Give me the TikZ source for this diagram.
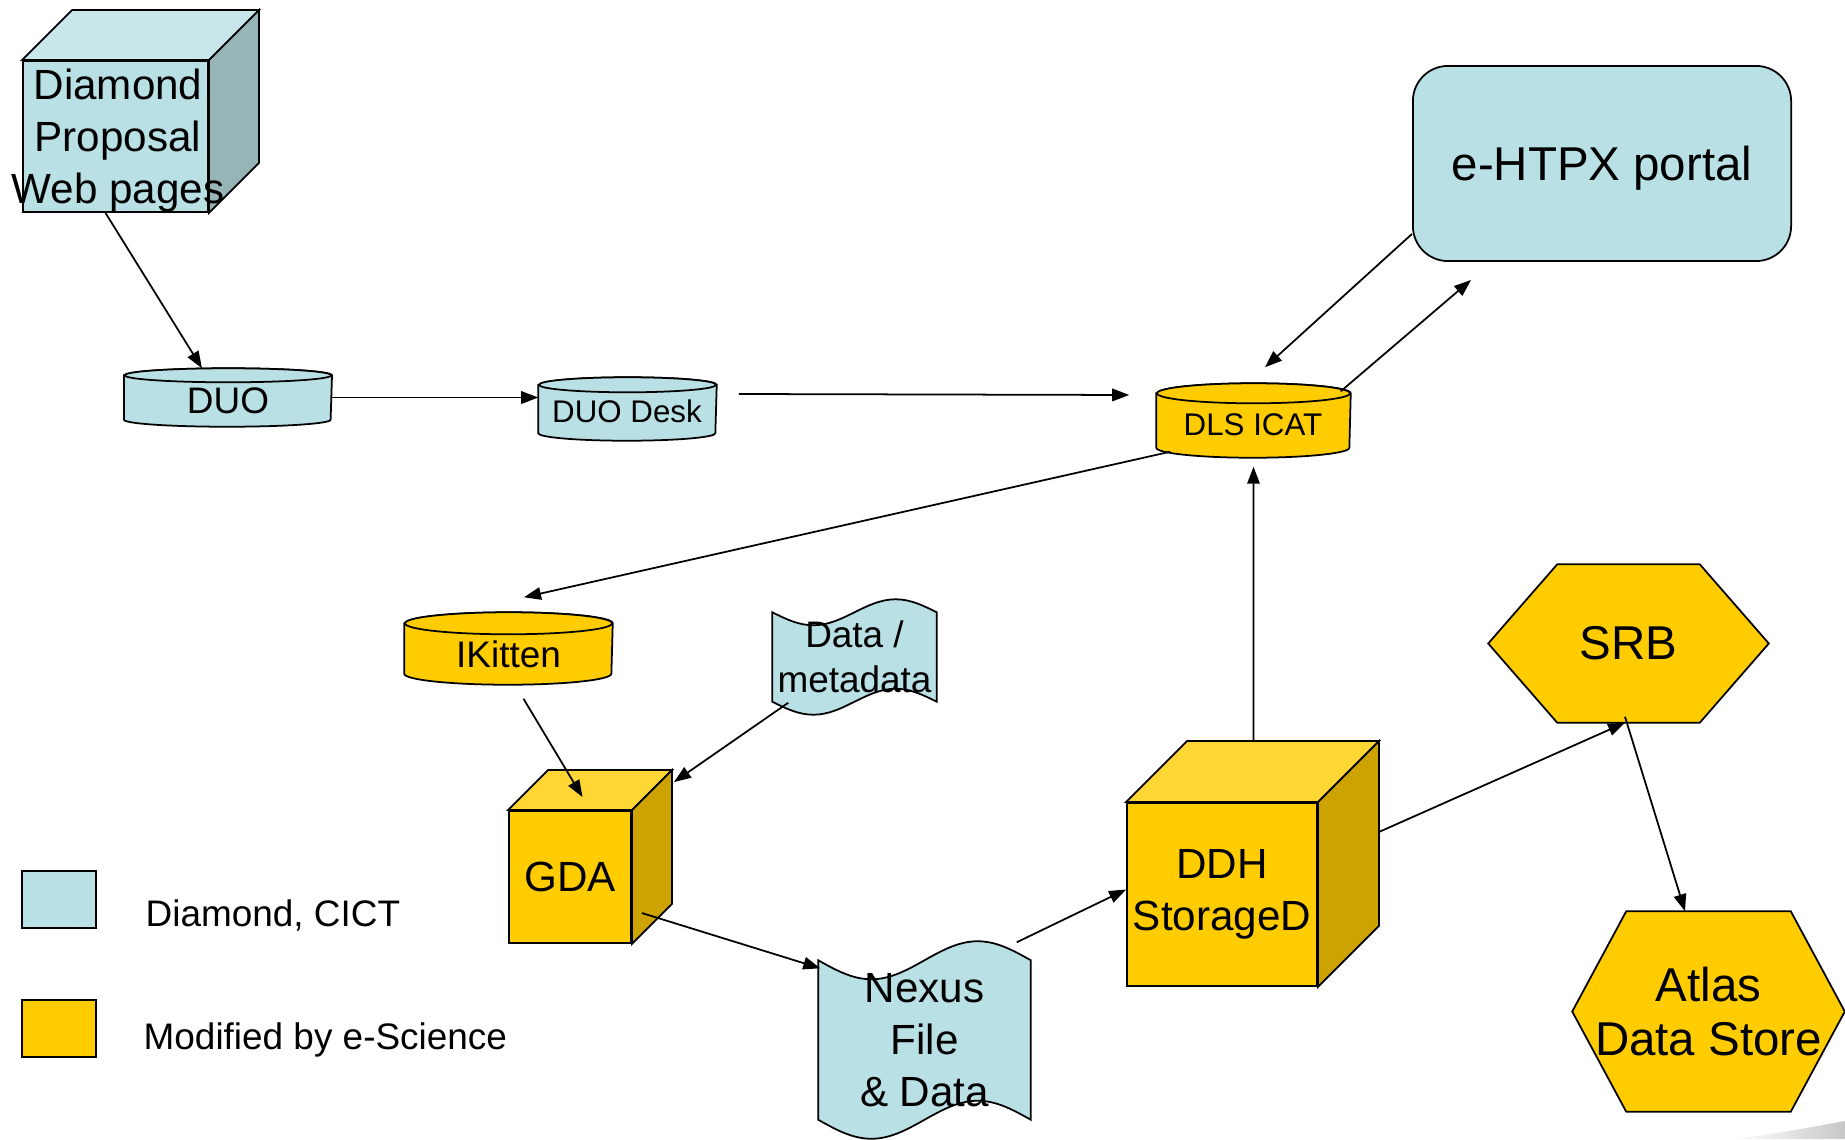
\documentclass[tikz,border=0pt]{standalone}
\usepackage{fontspec}
\setmainfont{Liberation Sans}
\usetikzlibrary{arrows.meta,calc,backgrounds}
\definecolor{cict}{HTML}{B9E0E4}
\definecolor{cicttop}{HTML}{C9E7EA}
\definecolor{cictside}{HTML}{97B4B7}
\definecolor{esci}{HTML}{FFCC00}
\definecolor{escitop}{HTML}{FFD633}
\definecolor{escside}{HTML}{CCA300}
\tikzset{
  face/.style={draw=black, line width=0.5pt},
  cictbox/.style={face, fill=cict, inner sep=0pt, align=center},
  escibox/.style={face, fill=esci, inner sep=0pt, align=center},
  hold/.style={draw=none, inner sep=0pt, align=center},
  lbl/.style={inner sep=0pt, align=center, font=\fontsize{12}{14.8}\selectfont},
  lblbig/.style={inner sep=0pt, align=center, font=\fontsize{13.5}{15.6}\selectfont},
  lblmid/.style={inner sep=0pt, align=center, font=\fontsize{10.5}{12.8}\selectfont},
  lblsmall/.style={inner sep=0pt, align=center, font=\fontsize{8.9}{10.5}\selectfont},
  flow/.style={-{Triangle[length=0.17cm, width=0.125cm]}, draw=black, line width=0.5pt},
}
% top and side of a box node: node, top fill, side fill, depth
\newcommand{\cubefaces}[4]{%
  \begin{pgfonlayer}{background}
  \filldraw[face, fill=#2] (#1.north west) -- ++(#4,#4) -- ([shift={(#4,#4)}]#1.north east) -- (#1.north east) -- cycle;
  \filldraw[face, fill=#3] (#1.north east) -- ++(#4,#4) -- ([shift={(#4,#4)}]#1.south east) -- (#1.south east) -- cycle;
  \end{pgfonlayer}}
% database drum round a node: node, fill, x radius, y radius
\newcommand{\dbdrum}[4]{%
  \begin{pgfonlayer}{background}
  \filldraw[face, fill=#2] ([yshift=-#4]#1.north west) -- ([yshift=#4]#1.south west)
    arc[start angle=180, end angle=360, x radius=#3, y radius=#4]
    -- ([yshift=-#4]#1.north east)
    arc[start angle=0, end angle=180, x radius=#3, y radius=#4] -- cycle;
  \filldraw[face, fill=#2] ([yshift=-#4]#1.north) ellipse[x radius=#3, y radius=#4];
  \end{pgfonlayer}}
% punched tape round a node: node, fill, wave height
\newcommand{\tapeshape}[3]{%
  \begin{pgfonlayer}{background}
  \filldraw[face, fill=#2] (#1.north west)
    sin ($(#1.north west)!.25!(#1.north east)+(0,#3)$)
    cos ($(#1.north west)!.5!(#1.north east)$)
    sin ($(#1.north west)!.75!(#1.north east)+(0,-#3)$)
    cos (#1.north east) -- (#1.south east)
    sin ($(#1.south west)!.75!(#1.south east)+(0,-#3)$)
    cos ($(#1.south west)!.5!(#1.south east)$)
    sin ($(#1.south west)!.25!(#1.south east)+(0,#3)$)
    cos (#1.south west) -- cycle;
  \end{pgfonlayer}}
% hexagon round a node: node, fill, inset
\newcommand{\hexshape}[3]{%
  \begin{pgfonlayer}{background}
  \filldraw[face, fill=#2] (#1.west) -- ([xshift=#3]#1.north west) -- ([xshift=-#3]#1.north east)
    -- (#1.east) -- ([xshift=-#3]#1.south east) -- ([xshift=#3]#1.south west) -- cycle;
  \end{pgfonlayer}}

\begin{document}
\begin{tikzpicture}[x=0.01cm, y=-0.01cm]
\useasboundingbox (0,0) rectangle (1845,1139);

\node[cictbox, minimum width=1.85cm, minimum height=1.51cm] (prop) at (115.5,136.5) {};
\cubefaces{prop}{cicttop}{cictside}{0.5cm}
\node[lbl] (prop-t) at (118,141) {Diamond\\Proposal\\Web pages};

\node[hold, minimum width=2.065cm, minimum height=0.57cm] (duo) at (228,397.5) {};
\dbdrum{duo}{cict}{1.0325cm}{0.07cm}
\node[lblmid] (duo-t) at (228,401) {DUO};

\node[hold, minimum width=1.77cm, minimum height=0.62cm] (desk) at (627.5,409) {};
\dbdrum{desk}{cict}{0.885cm}{0.075cm}
\node[lblsmall] (desk-t) at (627,411) {DUO Desk};

\node[hold, minimum width=1.93cm, minimum height=0.73cm] (icat) at (1253.5,420.5) {};
\dbdrum{icat}{esci}{0.965cm}{0.1cm}
\node[lblsmall] (icat-t) at (1253,425) {DLS ICAT};

\node[cictbox, lblbig, text depth=0pt, rounded corners=0.35cm, minimum width=3.78cm, minimum height=1.95cm] (portal) at (1602,163.5) {e-HTPX portal};

\node[hold, minimum width=2.07cm, minimum height=0.71cm] (ikit) at (508.5,648.5) {};
\dbdrum{ikit}{esci}{1.035cm}{0.11cm}
\node[lblmid] (ikit-t) at (508.5,654) {IKitten};

\node[hold, lblmid, minimum width=1.63cm, minimum height=0.88cm] (meta) at (854.5,657) {Data /\\metadata};
\tapeshape{meta}{cict}{13}

\node[escibox, lbl, minimum width=1.22cm, minimum height=1.32cm] (gda) at (570,877) {GDA};
\cubefaces{gda}{escitop}{escside}{0.4cm}

\node[hold, lbl, minimum width=2.11cm, minimum height=1.58cm] (nexus) at (924.5,1040) {Nexus\\File\\\& Data};
\tapeshape{nexus}{cict}{19}

\node[escibox, lbl, minimum width=1.90cm, minimum height=1.83cm] (ddh) at (1222,894.5) {DDH\\StorageD};
\cubefaces{ddh}{escitop}{escside}{0.61cm}

\node[hold, lblbig, minimum width=2.79cm, minimum height=1.57cm] (srb) at (1628.5,643.5) {SRB};
\hexshape{srb}{esci}{0.69cm}
\node[hold, lblbig, minimum width=2.71cm, minimum height=1.99cm] (atlas) at (1708.5,1011.5) {Atlas\\Data Store};
\hexshape{atlas}{esci}{0.54cm}

\node[cictbox, minimum width=0.74cm, minimum height=0.57cm] (key1) at (59,899.5) {};
\node[lblmid, anchor=west] (key1-t) at (145,915) {Diamond, CICT};
\node[escibox, minimum width=0.74cm, minimum height=0.57cm] (key2) at (59,1028.5) {};
\node[lblmid, anchor=west] (key2-t) at (143,1040) {Modified by e-Science};

\draw[flow] ([xshift=-0.1cm]prop.south) -- ([xshift=-0.26cm]duo.north);
\draw[flow] (duo.east) -- (desk.west |- duo.east);
\draw[flow] ([shift={(0.22cm,0.15cm)}]desk.east) -- ([shift={(-0.27cm,0.255cm)}]icat.west);
\draw[flow] ([yshift=0.28cm]portal.south west) -- ([shift={(0.115cm,0.16cm)}]icat.north);
\draw[flow] ([shift={(-0.1cm,-0.08cm)}]icat.north east) -- ([shift={(0.59cm,-0.18cm)}]portal.south west);
\draw[flow] ([shift={(0.14cm,0.06cm)}]icat.south west) -- ([shift={(0.155cm,0.15cm)}]ikit.north);
\draw[flow] ([shift={(0.15cm,-0.14cm)}]ikit.south) -- ([shift={(0.125cm,0.13cm)}]gda.north);
\draw[flow] ([shift={(0.16cm,-0.01cm)}]meta.south west) -- ([shift={(0.42cm,0.28cm)}]gda.north east);
\draw[flow] ([shift={(0.1cm,-0.36cm)}]gda.east) -- ([shift={(0.02cm,-0.08cm)}]nexus.north west);
\draw[flow] ([shift={(-0.14cm,0.18cm)}]nexus.north east) -- ([yshift=0.05cm]ddh.west);
\draw[flow] ([shift={(0.315cm,0.61cm)}]ddh.north) -- ([yshift=-0.09cm]icat.south);
\draw[flow] ([shift={(0.61cm,0.625cm)}]ddh.east) -- ([xshift=-0.035cm]srb.south);
\draw[flow] ([shift={(-0.035cm,0.06cm)}]srb.south) -- ([xshift=-0.235cm]atlas.north);

\shade[left color=white, right color=black!22] (1735,1139) .. controls (1790,1131) .. (1845,1121) -- (1845,1139) -- cycle;
\end{tikzpicture}
\end{document}
